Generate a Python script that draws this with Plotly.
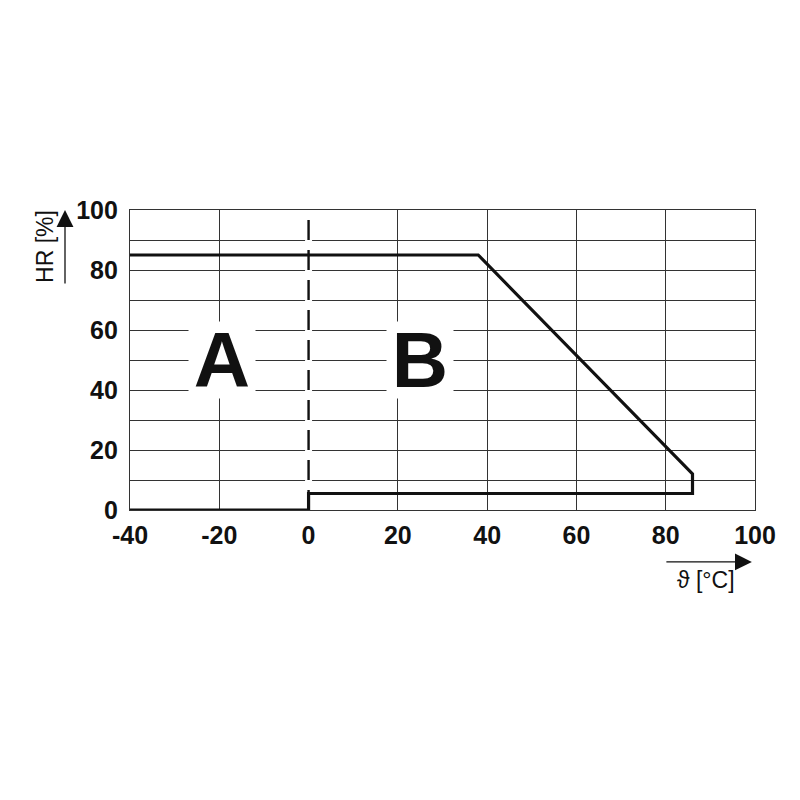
import plotly.graph_objects as go

# Data
curve_x = [-40, 0, 0, 86, 86, 38, -40]
curve_y = [0, 0, 5.5, 5.5, 12, 85, 85]
divider_x = [0, 0]
divider_y = [0, 100]
x_ticks = [-40, -20, 0, 20, 40, 60, 80, 100]
y_ticks = [0, 20, 40, 60, 80, 100]
region_labels = ["A", "B"]
region_x = [-19.5, 25]
region_y = [50, 50]

FONT = "Liberation Sans, Arial, sans-serif"
GRID = "#333333"

fig = go.Figure()
fig.add_trace(go.Scatter(x=divider_x, y=divider_y, mode="lines",
                         line=dict(color="white", width=7),
                         hoverinfo="skip", showlegend=False))
fig.add_trace(go.Scatter(x=divider_x, y=divider_y, mode="lines",
                         line=dict(color="#111", width=2.4, dash="20px,10px"),
                         hoverinfo="skip", showlegend=False))
fig.add_trace(go.Scatter(x=curve_x, y=curve_y, mode="lines",
                         line=dict(color="#111", width=3.2),
                         hoverinfo="skip", showlegend=False, cliponaxis=False))

for t, xv, yv in zip(region_labels, region_x, region_y):
    fig.add_annotation(x=xv, y=yv, xref="x", yref="y", text="<b>" + t + "</b>",
                       showarrow=False, bgcolor="white", width=64, height=74,
                       xanchor="center", yanchor="middle",
                       font=dict(family=FONT, size=78, color="#111"))

# Axis arrows
fig.add_annotation(x=-0.104, y=1.0, xref="paper", yref="paper", text="",
                   showarrow=True, ax=0, ay=75, arrowhead=2, arrowsize=2.6,
                   arrowwidth=1.3, arrowcolor="#111")
fig.add_annotation(x=0.995, y=-0.173, xref="paper", yref="paper", text="",
                   showarrow=True, ax=-87, ay=0, arrowhead=2, arrowsize=2.6,
                   arrowwidth=1.3, arrowcolor="#111")
fig.add_annotation(x=-0.136, y=0.877, xref="paper", yref="paper", text="HR [%]",
                   showarrow=False, textangle=-90, xanchor="center", yanchor="middle",
                   font=dict(family=FONT, size=23, color="#111"))
fig.add_annotation(x=0.9216, y=-0.233, xref="paper", yref="paper", text="ϑ [°C]",
                   showarrow=False, xanchor="center", yanchor="middle",
                   font=dict(family=FONT, size=23, color="#111"))

fig.update_xaxes(range=[-40, 100], tickvals=x_ticks,
                 ticktext=["<b>%d</b>" % v for v in x_ticks],
                 showgrid=True, gridcolor=GRID, gridwidth=1.2,
                 showline=True, linecolor=GRID, linewidth=1.2, mirror=True,
                 zeroline=False, ticks="", ticklabelstandoff=3,
                 tickfont=dict(family=FONT, size=25, color="#111"))
fig.update_yaxes(range=[0, 100], tickvals=y_ticks,
                 ticktext=["<b>%d</b>" % v for v in y_ticks],
                 showgrid=True, gridcolor=GRID, gridwidth=1.2,
                 minor=dict(dtick=10, showgrid=True, gridcolor=GRID, gridwidth=1.2),
                 showline=True, linecolor=GRID, linewidth=1.2, mirror=True,
                 zeroline=False, ticks="", ticklabelstandoff=6,
                 tickfont=dict(family=FONT, size=25, color="#111"))

fig.update_layout(width=800, height=800, autosize=False,
                  margin=dict(l=122, r=53, t=202, b=298),
                  plot_bgcolor="white", paper_bgcolor="white",
                  showlegend=False)

fig.write_html("out.html")
